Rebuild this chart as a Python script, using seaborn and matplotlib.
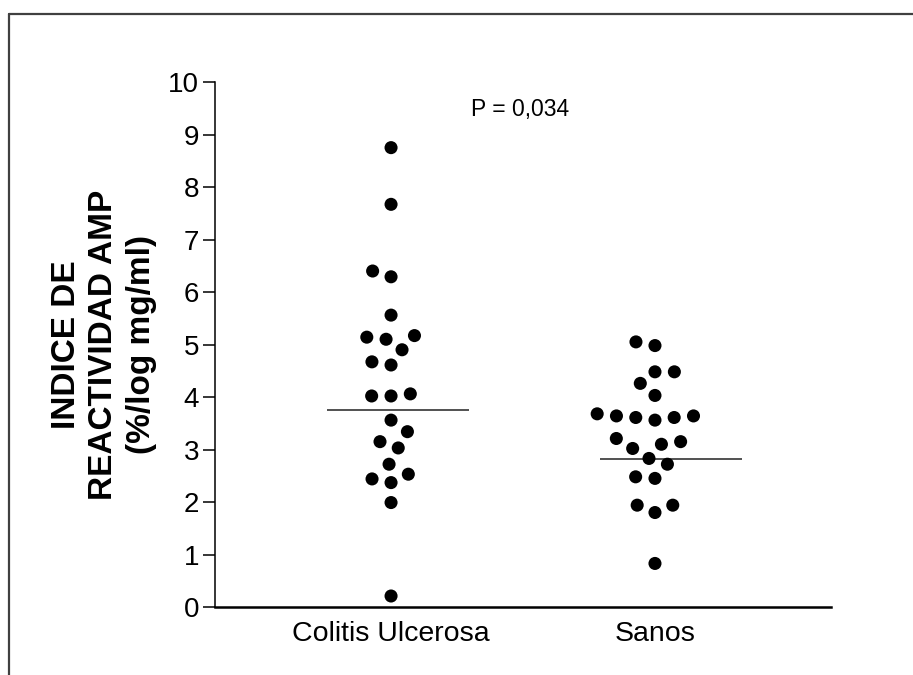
import numpy as np
import pandas as pd
import seaborn as sns
import matplotlib.pyplot as plt
from matplotlib.lines import Line2D

# values
colitis = [8.75, 7.67, 6.40, 6.29, 5.56, 5.14, 5.10, 5.17, 4.90, 4.61, 4.67,
           4.02, 4.02, 4.06, 3.56, 3.34, 3.15, 3.03, 2.72, 2.37, 2.44, 2.53,
           1.99, 0.21]
sanos = [5.05, 4.98, 4.48, 4.48, 4.26, 4.03, 3.64, 3.61, 3.56, 3.61, 3.64,
         3.68, 3.21, 3.10, 3.02, 3.15, 2.83, 2.72, 2.45, 2.48, 1.94, 1.80,
         1.94, 0.83]
groups = ["Colitis Ulcerosa", "Sanos"]
line_values = [3.76, 2.81]
y_ticks = list(range(0, 11))
p_text = "P = 0,034"
y_label = "INDICE DE\nREACTIVIDAD AMP\n(%/log mg/ml)"

df = pd.DataFrame({
    "grupo": [groups[0]] * len(colitis) + [groups[1]] * len(sanos),
    "indice": colitis + sanos,
})

sns.set_style("white")
plt.rcParams["font.family"] = ["Liberation Sans", "DejaVu Sans"]
plt.rcParams["text.color"] = "black"
plt.rcParams["axes.labelcolor"] = "black"

fig = plt.figure(figsize=(9.13, 6.75), dpi=100)
ax = fig.add_axes([0.2355, 0.1007, 0.6747, 0.7778])

sns.swarmplot(data=df, x="grupo", y="indice", order=groups, ax=ax,
              color="black", size=9.4, linewidth=3.9, edgecolor="none")

# horizontal marker line per group
line_span = [(-0.242, 0.295), (-0.208, 0.33)]
for i, (v, (a, b)) in enumerate(zip(line_values, line_span)):
    ax.hlines(v, i + a, i + b, color="#333333", lw=1.2, zorder=1)

ax.set_xlim(-0.667, 1.667)
ax.set_ylim(0, 10)
ax.set_yticks(y_ticks)
ax.set_yticklabels([str(t) for t in y_ticks], fontsize=20)
ax.tick_params(axis="y", direction="out", length=8.6, width=1.1, pad=3,
               left=True, colors="black")
ax.tick_params(axis="x", length=0, pad=10, labelsize=20.5, colors="black")

for s in ["top", "right"]:
    ax.spines[s].set_visible(False)
ax.spines["left"].set_linewidth(1.1)
ax.spines["bottom"].set_linewidth(1.8)
ax.spines["left"].set_color("black")
ax.spines["bottom"].set_color("black")

ax.set_xlabel("")
ax.set_ylabel(y_label, fontsize=24, fontweight="bold", labelpad=8,
              linespacing=1.27, color="black")

ax.text(0.49, 9.47, p_text, fontsize=16.5, ha="center", va="center",
        color="black")

# outer frame (top and left only)
fig.add_artist(Line2D([0.0104, 0.0104], [0.0, 0.979], color="#404040", lw=1.6))
fig.add_artist(Line2D([0.0104, 1.0], [0.979, 0.979], color="#404040", lw=1.6))

fig.savefig("out.png", dpi=100)
